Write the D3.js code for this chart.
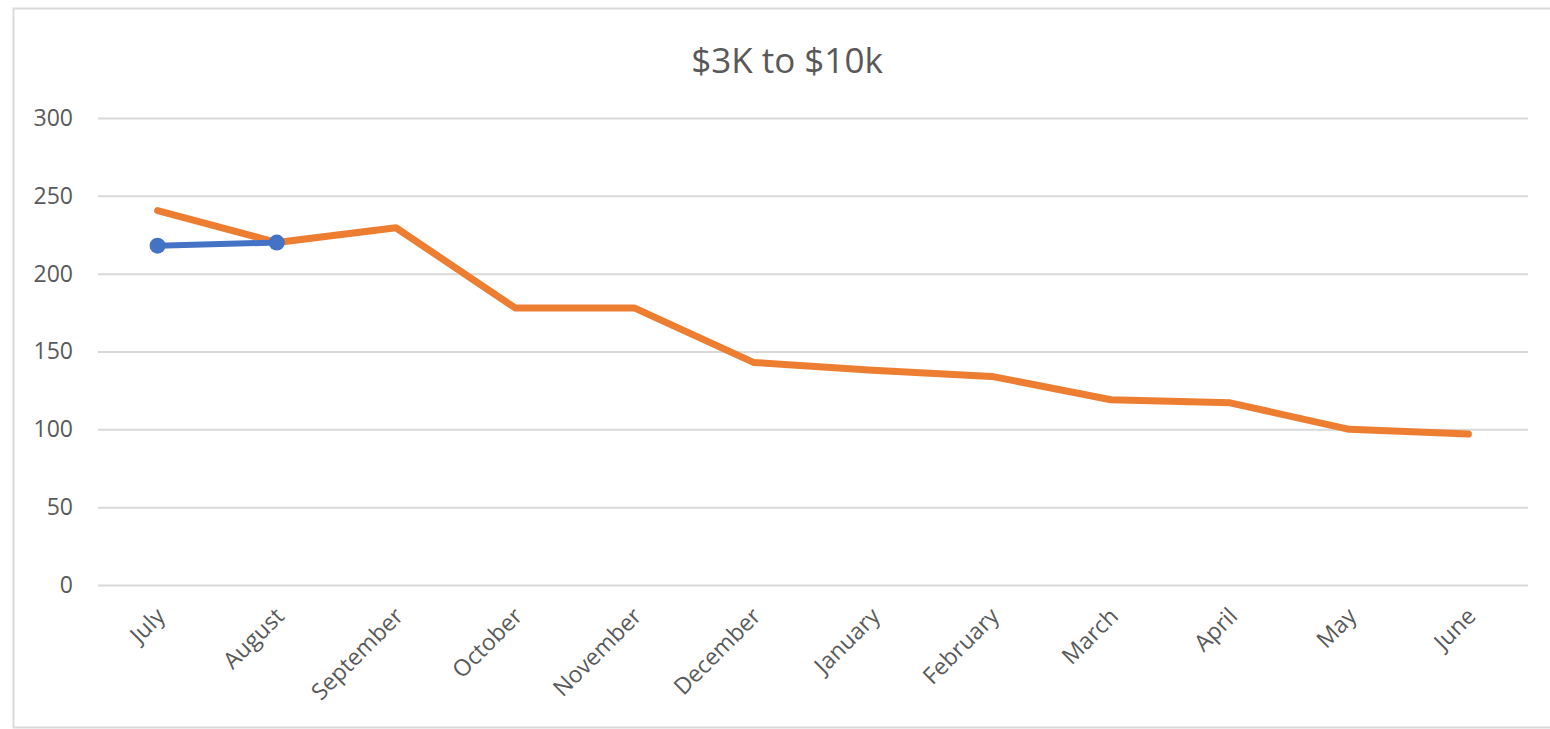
<!DOCTYPE html>
<html>
<head>
<meta charset="utf-8">
<script src="https://cdn.jsdelivr.net/npm/d3@7"></script>
<style>
    body { margin: 0; background: #fff; overflow: hidden; }
    svg { display: block; }
    text { font-family: "Open Sans", "Noto Sans", sans-serif; fill: #595959; }
</style>
</head>
<body>
<div id="chart"></div>
<script>
const months = ['July', 'August', 'September', 'October', 'November', 'December',
    'January', 'February', 'March', 'April', 'May', 'June'];
const orangeValues = [240.5, 220, 229.5, 178, 178, 143, 138, 134, 119, 117, 100, 97];
const blueValues = [218, 220];
const yTicks = [0, 50, 100, 150, 200, 250, 300];
const chartTitle = '$3K to $10k';

const width = 1550, height = 729;
let margin = {top: 118, right: 22, bottom: 144, left: 98};

let svg = d3.select('#chart').append('svg')
    .attr('width', width)
    .attr('height', height);

// chart border: top, left and bottom only (right edge is cut off in the picture)
let border = svg.append('g')
    .attr('fill', 'none')
    .attr('stroke', '#d9d9d9')
    .attr('stroke-width', 2);
border.append('path')
    .attr('d', 'M' + width + ',8.5H13.5V727.5H' + width);

let x = d3.scaleBand()
    .domain(months)
    .range([margin.left, width - margin.right]);
let y = d3.scaleLinear()
    .domain([0, 300])
    .range([height - margin.bottom, margin.top]);

// title
svg.append('text')
    .attr('x', 787)
    .attr('y', 73)
    .attr('text-anchor', 'middle')
    .style('font-size', '35px')
    .text(chartTitle);

// gridlines + y labels
let yAxis = svg.append('g')
    .attr('transform', 'translate(' + margin.left + ',0)')
    .call(d3.axisLeft(y).tickValues(yTicks).tickSize(-(width - margin.left - margin.right)).tickPadding(25));
yAxis.select('.domain').remove();
yAxis.selectAll('.tick line').attr('stroke', '#d9d9d9').attr('stroke-width', 2);
yAxis.selectAll('.tick text')
    .style('font-size', '23px')
    .attr('fill', '#595959');

// x labels, rotated
let xAxis = svg.append('g')
    .attr('transform', 'translate(0,' + (height - margin.bottom) + ')')
    .call(d3.axisBottom(x).tickSize(0).tickPadding(0));
xAxis.select('.domain').remove();
xAxis.selectAll('.tick text')
    .style('font-size', '23px')
    .attr('fill', '#595959')
    .attr('text-anchor', 'end')
    .attr('dy', '0.35em')
    .attr('transform', 'translate(3,27) rotate(-45)');

const cx = d => x(d) + x.bandwidth() / 2;

const line = d3.line()
    .x((d, i) => cx(months[i]))
    .y(d => y(d));

svg.append('path')
    .datum(orangeValues)
    .attr('fill', 'none')
    .attr('stroke', '#ed7d31')
    .attr('stroke-width', 7)
    .attr('stroke-linecap', 'round')
    .attr('stroke-linejoin', 'round')
    .attr('d', line);

svg.append('path')
    .datum(blueValues)
    .attr('fill', 'none')
    .attr('stroke', '#4472c4')
    .attr('stroke-width', 6)
    .attr('stroke-linecap', 'round')
    .attr('d', line);

svg.selectAll('.blue_marker')
    .data(blueValues)
    .enter().append('circle')
    .attr('class', 'blue_marker')
    .attr('cx', (d, i) => cx(months[i]))
    .attr('cy', d => y(d))
    .attr('r', 8)
    .attr('fill', '#4472c4');
</script>
</body>
</html>
